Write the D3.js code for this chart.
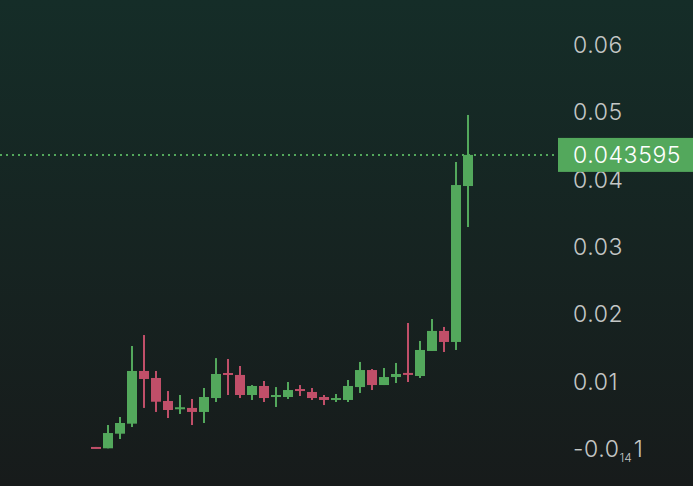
<!DOCTYPE html>
<html>
<head>
<meta charset="utf-8">
<script src="https://cdn.jsdelivr.net/npm/d3@7"></script>
<style>
html,body{margin:0;padding:0;background:#171b1b;}
svg{display:block;}
</style>
</head>
<body>
<svg id="chart" width="693" height="486"></svg>
<script>
const opens  = [0.0002,0.0000,0.00217,0.00366,0.01149,0.01045,0.00703,0.0058,0.0060,0.0054,0.00747,0.01119,0.0109,0.00792,0.00926,0.00762,0.00762,0.00881,0.00837,0.00762,0.00718,0.00718,0.0091,0.01163,0.0094,0.01059,0.0112,0.01074,0.01446,0.01744,0.0158,0.03897];
const highs  = [0.0002,0.00346,0.00465,0.0152,0.01683,0.01149,0.00851,0.00792,0.00733,0.00896,0.0134,0.01327,0.01223,0.0094,0.0100,0.0091,0.00985,0.0094,0.00896,0.00792,0.00807,0.01015,0.01283,0.01178,0.01193,0.01268,0.01862,0.01595,0.01921,0.01803,0.04254,0.04953];
const lows   = [0.0000,0.0000,0.00138,0.00316,0.0060,0.0054,0.0045,0.0051,0.00346,0.00376,0.00688,0.00792,0.00747,0.00718,0.00688,0.00614,0.00733,0.00777,0.00718,0.00643,0.00688,0.00688,0.00822,0.00866,0.0094,0.0097,0.00985,0.01045,0.01446,0.01431,0.01461,0.03288];
const closes = [0.0000,0.00227,0.00376,0.01149,0.0103,0.00692,0.00569,0.0061,0.0054,0.00762,0.01104,0.0109,0.00792,0.00926,0.00747,0.00792,0.00866,0.00851,0.00747,0.00718,0.00747,0.00926,0.01163,0.0094,0.01059,0.01104,0.0109,0.01461,0.01744,0.0158,0.03912,0.043595];
const tickValues = [0, 0.01, 0.02, 0.03, 0.04, 0.05, 0.06];
const tickLabels = ["-0.0\u2081\u20841", "0.01", "0.02", "0.03", "0.04", "0.05", "0.06"];
const lastPrice = 0.043595;
const lastPriceLabel = "0.043595";

const W = 693, H = 486;
const svg = d3.select("#chart");
const defs = svg.append("defs");
const grad = defs.append("linearGradient").attr("id","bg").attr("x1",0).attr("y1",0).attr("x2",0).attr("y2",1);
grad.append("stop").attr("offset","0%").attr("stop-color","#152d28");
grad.append("stop").attr("offset","100%").attr("stop-color","#171b1b");
svg.append("rect").attr("width",W).attr("height",H).attr("fill","url(#bg)");

const idx = d3.range(opens.length);
const x = d3.scaleBand().domain(idx).range([90, 90 + 12*opens.length]).paddingInner(1/6).paddingOuter(1/12);
const y = d3.scaleLinear().domain([0, 0.06]).range([448.3, 44.5]);

const up = "#53a85c", down = "#c04f69";
const font = "Inter, 'Noto Sans', sans-serif";
const g = svg.append("g");
const candles = g.selectAll("g.c").data(idx).join("g").attr("class","c");
candles.append("rect")
  .attr("x", i => x(i) + x.bandwidth()/2 - 1)
  .attr("width", 2)
  .attr("y", i => y(highs[i]))
  .attr("height", i => Math.max(1, y(lows[i]) - y(highs[i])))
  .attr("fill", i => closes[i] >= opens[i] ? up : down);
candles.append("rect")
  .attr("x", i => x(i))
  .attr("width", x.bandwidth())
  .attr("y", i => y(Math.max(opens[i], closes[i])))
  .attr("height", i => Math.max(2, Math.abs(y(opens[i]) - y(closes[i]))))
  .attr("fill", i => closes[i] >= opens[i] ? up : down);

// price line
svg.append("line")
  .attr("x1", 0).attr("x2", 558)
  .attr("y1", y(lastPrice)).attr("y2", y(lastPrice))
  .attr("stroke", up).attr("stroke-width", 2).attr("stroke-dasharray", "2 4");

// axis
const axis = d3.axisRight(y).tickValues(tickValues).tickSize(0).tickPadding(0)
  .tickFormat((d,i) => tickLabels[i]);
const ag = svg.append("g").attr("transform","translate(573,0)").call(axis);
ag.select(".domain").remove();
ag.selectAll("text").attr("fill","#c4c7c6").attr("font-family",font).attr("font-size", 23)
  .attr("font-weight", 300).attr("letter-spacing", 0.6).attr("dy","0.35em");
ag.selectAll(".tick text").filter((d,i)=> i===0).text(null)
  .call(t => {
    t.append("tspan").text("-0.0");
    t.append("tspan").attr("font-size", 12).attr("dy", 5).attr("letter-spacing", 0).text("14");
    t.append("tspan").attr("dy", -5).attr("dx", 2).text("1");
  });

// last price label
svg.append("rect").attr("x",558).attr("y", y(lastPrice)-17).attr("width", W-558).attr("height", 34).attr("fill", up);
svg.append("text").attr("x",573).attr("y", y(lastPrice)).attr("dy","0.35em")
  .attr("fill","#ffffff").attr("font-family",font).attr("font-size",23).attr("font-weight", 300).attr("letter-spacing", 0.6)
  .text(lastPriceLabel);
</script>
</body>
</html>
